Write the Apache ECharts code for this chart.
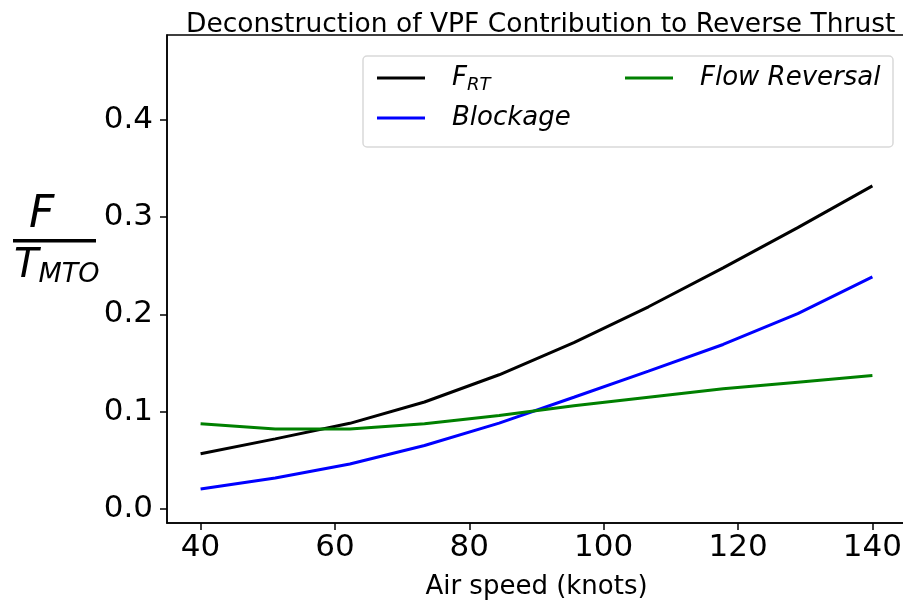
<!DOCTYPE html>
<html>
<head>
<meta charset="utf-8">
<script src="https://cdn.jsdelivr.net/npm/echarts@6/dist/echarts.min.js"></script>
<style>
  html, body { margin: 0; padding: 0; background: #fff; }
  #chart { width: 903px; height: 604px; }
</style>
</head>
<body>
<div id="chart"></div>
<script>
// air speed (knots), 10 evenly spaced samples
const speeds = [40, 51.11, 62.22, 73.33, 84.44, 95.56, 106.67, 117.78, 128.89, 140];
// values, F / T_MTO
const fRT = [0.0564, 0.0718, 0.0878, 0.1098, 0.1378, 0.1708, 0.2078, 0.2478, 0.2893, 0.3323];
const blockage = [0.0203, 0.0316, 0.046, 0.065, 0.088, 0.1147, 0.1415, 0.169, 0.2007, 0.2385];
const flowReversal = [0.0873, 0.082, 0.082, 0.0873, 0.0958, 0.106, 0.1147, 0.1233, 0.1302, 0.137];
const xTicks = [40, 60, 80, 100, 120, 140];
const yTicks = [0, 0.1, 0.2, 0.3, 0.4];

const FONT = 'DejaVu Sans';
const pairs = vals => speeds.map((s, i) => [s, vals[i]]);

const chart = echarts.init(document.getElementById('chart'), null, { renderer: 'canvas' });

const lineSeries = (name, vals, color) => ({
  name: name,
  type: 'line',
  data: pairs(vals),
  showSymbol: false,
  symbol: 'none',
  lineStyle: { color: color, width: 3 },
  itemStyle: { color: color },
  animation: false
});

const legendText = {
  fontFamily: FONT, fontSize: 26, fontStyle: 'italic', color: '#000',
  padding: [0, 0, 0, 22],
  rich: {
    f: { fontFamily: FONT, fontSize: 26, fontStyle: 'italic', color: '#000' },
    sub: { fontFamily: FONT, fontSize: 18, fontStyle: 'italic', color: '#000', verticalAlign: 'bottom', padding: [14, 0, 0, 0] }
  }
};

chart.setOption({
  backgroundColor: '#fff',
  animation: false,
  title: {
    text: 'Deconstruction of VPF Contribution to Reverse Thrust',
    left: 181, top: 7,
    textStyle: { fontFamily: FONT, fontSize: 26.5, fontWeight: 'normal', color: '#000' }
  },
  grid: {
    left: 167, top: 35, width: 739, height: 488,
    outerBoundsMode: 'none', containLabel: false,
    show: true, borderColor: '#000', borderWidth: 1.5, backgroundColor: 'transparent'
  },
  legend: [{
    data: ['F_RT', 'Blockage'],
    orient: 'vertical',
    left: 372, top: 60,
    icon: 'rect', itemWidth: 48, itemHeight: 3, itemGap: 11,
    textStyle: legendText,
    formatter: n => n === 'F_RT' ? '{f|F}{sub|RT}' : n
  }, {
    data: ['Flow Reversal'],
    orient: 'vertical',
    left: 620, top: 60,
    icon: 'rect', itemWidth: 48, itemHeight: 3,
    textStyle: legendText
  }],
  xAxis: {
    type: 'value', min: 35, max: 145,
    name: 'Air speed (knots)', nameLocation: 'middle', nameGap: 51,
    nameTextStyle: { fontFamily: FONT, fontSize: 26, color: '#000' },
    axisLine: { show: true, onZero: false, lineStyle: { color: '#000', width: 1.5 } },
    axisTick: { show: true, length: 7, customValues: xTicks, lineStyle: { color: '#000', width: 1.5 } },
    axisLabel: { customValues: xTicks, margin: 9, fontFamily: FONT, fontSize: 31, color: '#000' },
    splitLine: { show: false }
  },
  yAxis: {
    type: 'value', min: -0.0148, max: 0.4876,
    axisLine: { show: true, onZero: false, lineStyle: { color: '#000', width: 1.5 } },
    axisTick: { show: true, length: 7, customValues: yTicks, lineStyle: { color: '#000', width: 1.5 } },
    axisLabel: {
      customValues: yTicks, margin: 14, fontFamily: FONT, fontSize: 31, color: '#000',
      formatter: v => v.toFixed(1)
    },
    splitLine: { show: false }
  },
  graphic: [
    // legend frame
    { type: 'rect', shape: { x: 363, y: 56, width: 530, height: 91, r: 4 },
      style: { fill: 'rgba(255,255,255,0.8)', stroke: '#d9d9d9', lineWidth: 1.5 }, z: 0, silent: true },
    // y label as a fraction F / T_MTO
    { type: 'text', left: 29, top: 194,
      style: { text: 'F', font: 'italic 44px "DejaVu Sans"', fill: '#000' } },
    { type: 'rect', shape: { x: 13, y: 239, width: 83, height: 3.5 }, style: { fill: '#000' } },
    { type: 'text', left: 14, top: 247,
      style: {
        text: '{t|T}{s|MTO}',
        rich: {
          t: { font: 'italic 40px "DejaVu Sans"', fill: '#000' },
          s: { font: 'italic 27px "DejaVu Sans"', fill: '#000', verticalAlign: 'bottom', padding: [16, 0, 0, 0] }
        }
      } }
  ],
  series: [
    lineSeries('F_RT', fRT, '#000000'),
    lineSeries('Blockage', blockage, '#0000ff'),
    lineSeries('Flow Reversal', flowReversal, '#008000')
  ]
});
</script>
</body>
</html>
